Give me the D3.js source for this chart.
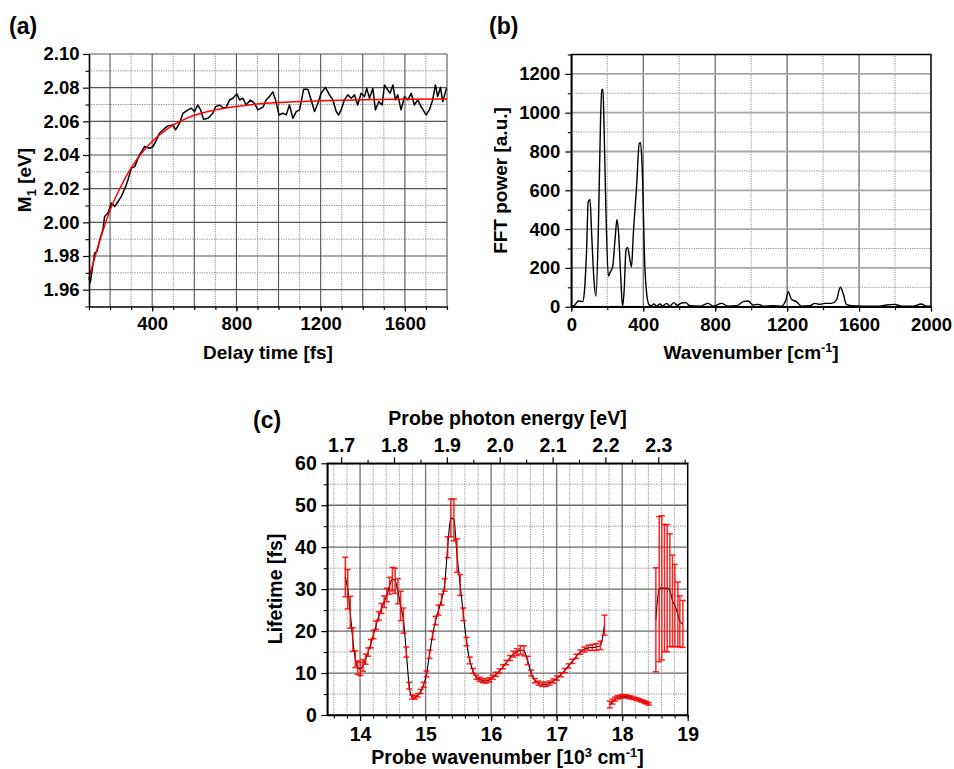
<!DOCTYPE html>
<html>
<head>
<meta charset="utf-8">
<script src="https://cdn.jsdelivr.net/npm/d3@7"></script>
<style>
  body { margin: 0; background: #fff; }
  svg text { font-family: "Liberation Sans", Arial, Helvetica, sans-serif; font-weight: bold; fill: #000; }
</style>
</head>
<body>
<svg id="fig" width="954" height="769"></svg>
<script>
// ---------- (a) first spectral moment vs delay time ----------
const delayTime = [100,106,127,138,151,166,174,190,206,222,238,253,274,285,301,317,340,364,388,404,
  420,435,451,475,499,511,530,546,570,586,601,617,630,644,665,688,701,720,739,752,
  767,783,802,815,831,846,866,886,902,926,941,957,973,986,1002,1021,1036,1052,1068,1084,
  1100,1119,1139,1155,1171,1187,1202,1223,1242,1258,1274,1286,1297,1313,1329,1345,1361,1376,1392,1408,
  1419,1432,1448,1460,1476,1492,1503,1519,1530,1543,1555,1566,1582,1598,1614,1630,1645,1661,1677,1701,
  1716,1732,1745,1756,1769,1780,1797];
const m1Values = [1.9669,1.9643,1.9817,1.9827,1.9896,1.9956,2.0035,2.0055,2.0114,2.0094,
  2.0124,2.0153,2.0213,2.0252,2.0322,2.0331,2.0401,2.0450,2.0440,2.0450,
  2.0490,2.0529,2.0549,2.0573,2.0579,2.0549,2.0589,2.0648,2.0668,2.0678,
  2.0658,2.0697,2.0668,2.0612,2.0618,2.0648,2.0687,2.0697,2.0678,2.0684,
  2.0727,2.0737,2.0763,2.0727,2.0737,2.0697,2.0727,2.0707,2.0668,2.0684,
  2.0727,2.0747,2.0775,2.0727,2.0638,2.0648,2.0638,2.0697,2.0618,2.0658,
  2.0668,2.0790,2.0790,2.0727,2.0658,2.0707,2.0767,2.0802,2.0757,2.0727,
  2.0658,2.0638,2.0668,2.0727,2.0757,2.0737,2.0757,2.0697,2.0767,2.0747,
  2.0796,2.0737,2.0796,2.0668,2.0717,2.0697,2.0816,2.0786,2.0767,2.0816,
  2.0727,2.0757,2.0668,2.0747,2.0727,2.0767,2.0697,2.0727,2.0687,2.0638,
  2.0668,2.0727,2.0816,2.0747,2.0802,2.0717,2.0796];
const fitTime   = [100,150,200,250,300,350,400,450,500,550,600,700,800,900,1000,1200,1400,1600,1800];
const fitValues = [1.967,1.9886,2.0072,2.021,2.0323,2.0411,2.048,2.0534,2.0577,2.061,2.0636,2.0668,2.0688,2.0703,2.0712,2.0722,2.0728,2.0731,2.0733];
const aXTicks = [400,800,1200,1600];
const aYTicks = [1.96,1.98,2.00,2.02,2.04,2.06,2.08,2.10];

// ---------- (b) FFT power spectrum ----------
const fftWavenumber = [0,20,39,48,63,72,85,94,104,113,126,137,150,163,170,176,183,193,206,218,
  230,243,254,263,274,285,294,304,313,326,335,344,363,378,385,394,409,419,433,446,
  459,474,493,507,530,548,570,589,613,637,659,715,761,789,835,872,919,956,983,1011,
  1039,1067,1122,1169,1193,1206,1224,1252,1280,1326,1354,1382,1409,1446,1474,1496,1511,1530,1557,1622,
  1715,1752,1798,1835,1900,1946,1974,2000];
const fftPower = [0,9,29,29,26,69,292,541,553,378,138,55,378,980,1117,1121,894,481,158,181,
  206,344,450,378,172,3,86,292,306,241,206,361,619,842,846,722,206,69,9,5,
  14,3,14,3,17,3,21,7,19,21,5,3,17,3,17,3,5,26,29,9,
  12,3,5,3,34,77,38,26,3,5,17,12,17,17,34,100,69,12,5,3,
  3,9,12,3,3,14,3,2];
const bXTicks = [0,400,800,1200,1600,2000];
const bYTicks = [0,200,400,600,800,1000,1200];

// ---------- (c) lifetime vs probe wavenumber (three spectral windows) ----------
const probeK1 = [13.774,13.812,13.850,13.889,13.928,13.966,14.006,14.045,14.085,14.124,
  14.164,14.205,14.245,14.286,14.327,14.368,14.409,14.451,14.493,14.535,
  14.577,14.620,14.663,14.706,14.749,14.793,14.837,14.881,14.925,14.970,
  15.015,15.060,15.106,15.152,15.198,15.244,15.291,15.337,15.385,15.432,
  15.480,15.528,15.576,15.625,15.674,15.723,15.773,15.823,15.873,15.924,
  15.974,16.026,16.077,16.129,16.181,16.234,16.287,16.340,16.393,16.447,
  16.502,16.556,16.611,16.667,16.722,16.779,16.835,16.892,16.949,17.007,
  17.065,17.123,17.182,17.241,17.301,17.361,17.422,17.483,17.544,17.606,
  17.668,17.730];
const lifetime1 = [32.9,30.0,24.5,18.0,13.3,11.3,11.0,11.8,13.3,15.0,
  17.0,19.2,21.4,23.6,25.4,27.0,28.6,30.8,32.4,32.0,
  29.5,26.0,22.5,15.0,7.0,4.3,4.2,4.7,5.6,7.2,
  9.8,14.5,19.0,22.5,25.0,27.5,31.0,40.0,47.0,46.5,
  38.0,31.0,24.0,17.5,13.0,10.5,9.0,8.5,8.2,8.1,
  8.4,9.0,9.7,10.5,11.5,12.5,13.6,14.5,15.0,15.5,
  15.3,13.0,10.0,8.2,7.6,7.3,7.3,7.6,8.1,8.8,
  9.6,10.6,11.7,12.8,14.0,15.0,15.6,16.0,16.1,16.2,
  16.6,21.4];
const error1 = [4.7,4.7,3.8,2.8,2.0,1.6,1.6,1.4,1.2,1.0,
  1.0,1.0,1.0,1.0,1.2,1.4,1.6,2.0,2.8,3.0,
  3.0,3.5,3.0,1.2,0.8,0.5,0.4,0.4,0.5,0.6,
  0.7,1.0,1.0,1.0,1.2,1.3,1.5,2.5,4.5,5.0,
  4.0,2.5,1.5,1.0,0.8,0.6,0.5,0.5,0.5,0.5,
  0.5,0.5,0.5,0.5,0.5,0.5,0.6,0.7,0.8,1.0,
  1.2,1.0,0.7,0.5,0.5,0.5,0.5,0.5,0.5,0.5,
  0.5,0.5,0.5,0.5,0.5,0.5,0.6,0.6,0.7,0.8,
  1.0,2.4];
const probeK2 = [17.812,17.853,17.893,17.929,17.975,18.015,18.056,18.096,18.137,18.178,18.218,18.259,18.299,18.340,18.371,18.406];
const lifetime2 = [2.5,3.2,3.8,4.2,4.4,4.5,4.45,4.3,4.15,4.0,3.8,3.6,3.35,3.1,2.9,2.65];
const error2 = [0.8,0.6,0.5,0.4,0.4,0.35,0.35,0.35,0.35,0.3,0.3,0.3,0.3,0.3,0.3,0.3];
const probeK3 = [18.514,18.565,18.606,18.646,18.687,18.728,18.768,18.804,18.850,18.880,18.926];
const lifetime3 = [22.7,30.0,30.3,30.25,30.25,29.75,27.2,26.1,24.0,22.3,21.7];
const error3 = [12.4,17.3,17.2,15.15,15.15,13.45,10.9,9.8,7.7,6.1,5.6];
const cXTicks = [14,15,16,17,18,19];
const cYTicks = [0,10,20,30,40,50,60];
const cEvTicks = [1.7,1.8,1.9,2.0,2.1,2.2,2.3];
const evPerKiloWavenumber = 0.1239842; // photon energy (eV) per 10^3 cm^-1

// ---------- helpers ----------
const svg = d3.select("#fig");
const TICK_FONT = 18.5, TITLE_FONT = 19;
const fmtInt = d3.format("d");

function lines(g, vals, horiz, scale, other, stroke, width, dash) {
  const [o0, o1] = other.range();
  g.append("g").selectAll("line").data(vals).join("line")
    .attr("x1", d => horiz ? o0 : scale(d)).attr("x2", d => horiz ? o1 : scale(d))
    .attr("y1", d => horiz ? scale(d) : o0).attr("y2", d => horiz ? scale(d) : o1)
    .attr("stroke", stroke).attr("stroke-width", width)
    .attr("stroke-dasharray", dash || null);
}

function styleAxis(sel) {
  sel.select(".domain").attr("stroke", "#000").attr("stroke-width", 1.6);
  sel.selectAll(".tick line").attr("stroke", "#000").attr("stroke-width", 1.2);
  sel.selectAll("text").attr("font-size", TICK_FONT).attr("fill", "#000");
}

function minorTicks(g, axisFn, scale, vals, size, transform) {
  g.append("g").attr("transform", transform)
    .call(axisFn(scale).tickValues(vals).tickSize(size).tickFormat(""))
    .call(s => { s.select(".domain").remove(); s.selectAll(".tick line").attr("stroke", "#000").attr("stroke-width", 1.1); });
}

function label(g, x, y, parts, size, rotate) {
  const t = g.append("text").attr("font-size", size).attr("text-anchor", "middle")
    .attr("transform", rotate ? `translate(${x},${y}) rotate(-90)` : `translate(${x},${y})`);
  parts.forEach(p => {
    const sp = t.append("tspan").text(p.t);
    if (p.dy) sp.attr("dy", p.dy);
    if (p.fs) sp.attr("font-size", p.fs);
  });
  return t;
}

function panelLetter(x, y, txt) {
  svg.append("text").attr("x", x).attr("y", y).attr("font-size", 23).text(txt);
}

const fmt2 = d3.format(".2f");

// ================= Panel (a) =================
{
  const x = d3.scaleLinear().domain([100, 1800]).range([89, 447]);
  const y = d3.scaleLinear().domain([1.95, 2.10]).range([306.5, 54]);
  const g = svg.append("g");
  const minorCol = "#8a8a8a", majorCol = "#555";
  lines(g, d3.range(300, 1800, 200), false, x, y, minorCol, 1, "1.2,1.2");
  lines(g, [1.97, 1.99, 2.01, 2.03, 2.05, 2.07, 2.09], true, y, x, minorCol, 1, "1.2,1.2");
  lines(g, d3.range(200, 1801, 200), false, x, y, majorCol, 1.1);
  lines(g, aYTicks, true, y, x, majorCol, 1.1);

  g.append("path").datum(delayTime.map((t, i) => [t, m1Values[i]]))
    .attr("fill", "none").attr("stroke", "#000").attr("stroke-width", 1.5)
    .attr("stroke-linejoin", "round")
    .attr("d", d3.line().x(d => x(d[0])).y(d => y(d[1])));
  g.append("path").datum(fitTime.map((t, i) => [t, fitValues[i]]))
    .attr("fill", "none").attr("stroke", "#ff0000").attr("stroke-width", 1.5)
    .attr("d", d3.line().curve(d3.curveMonotoneX).x(d => x(d[0])).y(d => y(d[1])));

  minorTicks(g, d3.axisBottom, x, d3.range(100, 1801, 100), 3.5, "translate(0,306.5)");
  minorTicks(g, d3.axisLeft, y, [1.95,1.97,1.99,2.01,2.03,2.05,2.07,2.09], 3.5, "translate(89,0)");
  g.append("g").attr("transform", "translate(0,306.5)")
    .call(d3.axisBottom(x).tickValues(aXTicks).tickFormat(fmtInt).tickSize(5).tickSizeOuter(0))
    .call(s => styleAxis(s))
    .call(s => s.selectAll("text").attr("y", 23.5).attr("dy", 0));
  g.append("g").attr("transform", "translate(89,0)")
    .call(d3.axisLeft(y).tickValues(aYTicks).tickFormat(fmt2).tickSize(6).tickSizeOuter(0))
    .call(s => styleAxis(s))
    .call(s => s.selectAll("text").attr("x", -9.5));

  label(g, 268, 358.5, [{t: "Delay time [fs]"}], TITLE_FONT);
  label(g, 30.5, 180, [{t: "M"}, {t: "1", dy: 5, fs: 13}, {t: " [eV]", dy: -5}], TITLE_FONT, true);
  panelLetter(9, 34, "(a)");
}

// ================= Panel (b) =================
{
  const x = d3.scaleLinear().domain([0, 2000]).range([571.3, 931]);
  const y = d3.scaleLinear().domain([0, 1300]).range([306.7, 54.5]);
  const g = svg.append("g");
  const minorCol = "#8a8a8a";
  lines(g, [200, 600, 1000, 1400, 1800], false, x, y, minorCol, 1, "1.2,1.2");
  lines(g, [100, 300, 500, 700, 900, 1100], true, y, x, minorCol, 1, "1.2,1.2");
  lines(g, [400, 800, 1200, 1600], false, x, y, "#555", 1.1);
  lines(g, [200, 400, 600, 800, 1000, 1200], true, y, x, "#a6a6a6", 1.8);

  g.append("path").datum(fftWavenumber.map((w, i) => [w, fftPower[i]]))
    .attr("fill", "none").attr("stroke", "#000").attr("stroke-width", 1.4)
    .attr("d", d3.line().curve(d3.curveMonotoneX).x(d => x(d[0])).y(d => y(d[1])));

  // frame
  g.append("rect").attr("x", 571.3).attr("y", 54.5).attr("width", 931 - 571.3).attr("height", 306.7 - 54.5)
    .attr("fill", "none").attr("stroke", "#000").attr("stroke-width", 1.5);

  minorTicks(g, d3.axisBottom, x, d3.range(0, 2001, 200), 3.5, "translate(0,306.7)");
  minorTicks(g, d3.axisLeft, y, d3.range(100, 1301, 200), 3.5, "translate(571.3,0)");
  g.append("g").attr("transform", "translate(0,306.7)")
    .call(d3.axisBottom(x).tickValues(bXTicks).tickFormat(fmtInt).tickSize(5).tickSizeOuter(0))
    .call(s => styleAxis(s))
    .call(s => s.selectAll("text").attr("y", 24).attr("dy", 0));
  g.append("g").attr("transform", "translate(571.3,0)")
    .call(d3.axisLeft(y).tickValues(bYTicks).tickFormat(fmtInt).tickSize(6).tickSizeOuter(0))
    .call(s => styleAxis(s))
    .call(s => s.selectAll("text").attr("x", -11));

  label(g, 751, 358.5, [{t: "Wavenumber [cm"}, {t: "-1", dy: -7, fs: 12.5}, {t: "]", dy: 7}], TITLE_FONT);
  label(g, 507, 180.5, [{t: "FFT power [a.u.]"}], TITLE_FONT, true);
  panelLetter(489, 34, "(b)");
}

// ================= Panel (c) =================
{
  const L = 327.3, R = 687.7, T = 463.3, B = 715;
  const x = d3.scaleLinear().domain([13.5, 19]).range([L, R]);
  const ev = d3.scaleLinear().domain([13.5 * evPerKiloWavenumber, 19 * evPerKiloWavenumber]).range([L, R]);
  const y = d3.scaleLinear().domain([0, 60]).range([B, T]);
  const g = svg.append("g");
  const minorCol = "#8f8f8f";
  const minorX = d3.range(13.6, 19, 0.2).filter(v => Math.abs(v - Math.round(v)) > 0.05);
  lines(g, minorX, false, x, y, minorCol, 1, "1.2,1.2");
  lines(g, [5, 15, 25, 35, 45, 55], true, y, x, minorCol, 1, "1.2,1.2");
  lines(g, [14, 15, 16, 17, 18], false, x, y, "#7a7a7a", 1.4);
  lines(g, [10, 20, 30, 40, 50], true, y, x, "#6a6a6a", 1.3);

  const segs = [
    {k: probeK1, v: lifetime1, e: error1},
    {k: probeK2, v: lifetime2, e: error2},
    {k: probeK3, v: lifetime3, e: error3}
  ];
  const line = d3.line().curve(d3.curveMonotoneX).x(d => x(d.k)).y(d => y(d.v));
  const CAP = 3;
  segs.forEach(s => {
    const pts = s.k.map((k, i) => ({k, v: s.v[i], e: s.e[i]}));
    g.append("path").datum(pts).attr("fill", "none").attr("stroke", "#000").attr("stroke-width", 1.1)
      .attr("d", line);
    const eb = g.append("g").attr("stroke", "#ff0000").attr("stroke-width", 1.5).attr("stroke-opacity", 0.85);
    eb.selectAll("line.v").data(pts).join("line")
      .attr("x1", d => x(d.k)).attr("x2", d => x(d.k))
      .attr("y1", d => y(d.v - d.e)).attr("y2", d => y(d.v + d.e));
    eb.selectAll("line.t").data(pts).join("line")
      .attr("x1", d => x(d.k) - CAP).attr("x2", d => x(d.k) + CAP)
      .attr("y1", d => y(d.v + d.e)).attr("y2", d => y(d.v + d.e));
    eb.selectAll("line.b").data(pts).join("line")
      .attr("x1", d => x(d.k) - CAP).attr("x2", d => x(d.k) + CAP)
      .attr("y1", d => y(d.v - d.e)).attr("y2", d => y(d.v - d.e));
  });

  // frame
  g.append("rect").attr("x", L).attr("y", T).attr("width", R - L).attr("height", B - T)
    .attr("fill", "none").attr("stroke", "#000").attr("stroke-width", 1.5);

  minorTicks(g, d3.axisBottom, x, d3.range(13.6, 19.01, 0.2), 3.5, `translate(0,${B})`);
  minorTicks(g, d3.axisLeft, y, [5, 15, 25, 35, 45, 55], 3.5, `translate(${L},0)`);
  minorTicks(g, d3.axisTop, ev, [1.75, 1.85, 1.95, 2.05, 2.15, 2.25, 2.35], 3.5, `translate(0,${T})`);
  g.append("g").attr("transform", `translate(0,${B})`)
    .call(d3.axisBottom(x).tickValues(cXTicks).tickFormat(fmtInt).tickSize(6).tickSizeOuter(0))
    .call(s => styleAxis(s))
    .call(s => s.selectAll("text").attr("y", 26).attr("dy", 0).attr("font-size", 19.5));
  g.append("g").attr("transform", `translate(${L},0)`)
    .call(d3.axisLeft(y).tickValues(cYTicks).tickFormat(fmtInt).tickSize(6).tickSizeOuter(0))
    .call(s => styleAxis(s))
    .call(s => s.selectAll("text").attr("x", -10.5).attr("font-size", 19.5));
  g.append("g").attr("transform", `translate(0,${T})`)
    .call(d3.axisTop(ev).tickValues(cEvTicks).tickFormat(d3.format(".1f")).tickSize(6).tickSizeOuter(0))
    .call(s => styleAxis(s))
    .call(s => s.selectAll("text").attr("y", -11.5).attr("dy", 0).attr("font-size", 19.5));

  label(g, 507.5, 425, [{t: "Probe photon energy [eV]"}], 19.5);
  label(g, 507.5, 764, [{t: "Probe wavenumber [10"}, {t: "3", dy: -7, fs: 13}, {t: " cm", dy: 7},
    {t: "-1", dy: -7, fs: 13}, {t: "]", dy: 7}], 19.5);
  label(g, 281.5, 589, [{t: "Lifetime [fs]"}], 19.5, true);
  panelLetter(253, 428, "(c)");
}
</script>
</body>
</html>
